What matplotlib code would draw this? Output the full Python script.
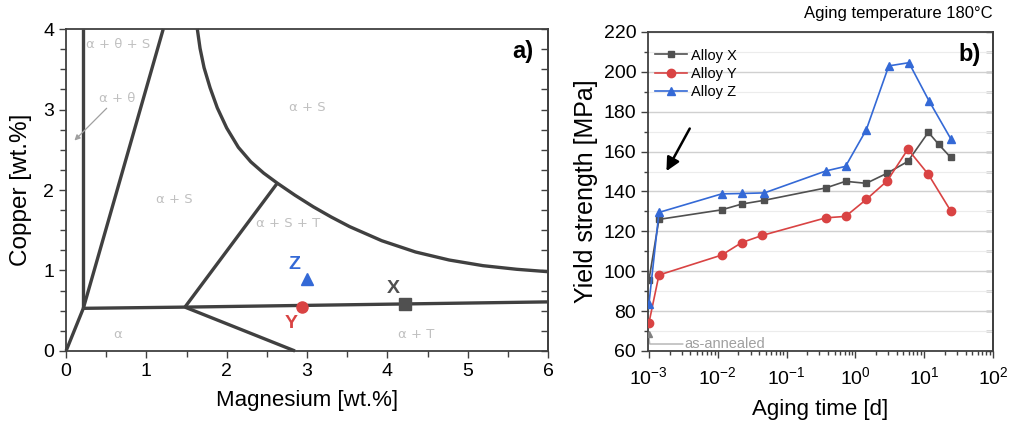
import numpy as np
import matplotlib
matplotlib.use("Agg")
import matplotlib.pyplot as plt
from matplotlib.ticker import MultipleLocator, LogLocator, NullFormatter

plt.rcParams['font.family'] = ['Liberation Sans', 'DejaVu Sans']
plt.rcParams['mathtext.fontset'] = 'custom'
plt.rcParams['mathtext.rm'] = 'Liberation Sans'

# ---------------- Panel a) data: phase diagram (Mg, Cu wt.%) ----------------
line_left_mg = [0.0, 0.215]
line_left_cu = [0.0, 0.53]
line_vert_mg = [0.215, 0.215]
line_vert_cu = [0.53, 4.0]
line_diag_mg = [0.215, 1.21]
line_diag_cu = [0.53, 4.0]
line_horiz_mg = [0.215, 1.48, 6.0]
line_horiz_cu = [0.53, 0.545, 0.61]
line_down_mg = [1.48, 2.85]
line_down_cu = [0.545, 0.0]
line_up_mg = [1.48, 2.63]
line_up_cu = [0.545, 2.085]
curve_mg = [1.634, 1.668, 1.718, 1.793, 1.883, 2.0, 2.145, 2.30, 2.46, 2.63, 2.85,
            3.08, 3.30, 3.53, 3.93, 4.35, 4.77, 5.19, 5.61, 6.0]
curve_cu = [4.0, 3.76, 3.52, 3.27, 3.02, 2.77, 2.53, 2.35, 2.21, 2.085, 1.935,
            1.79, 1.665, 1.545, 1.37, 1.23, 1.13, 1.06, 1.015, 0.985]

region_labels = ["α + θ + S", "α + θ", "α + S", "α + S", "α + S + T", "α", "α + T"]
region_x = [0.65, 0.64, 3.0, 1.35, 2.76, 0.64, 4.36]
region_y = [3.81, 3.14, 3.03, 1.88, 1.59, 0.20, 0.21]

alloy_names = ["X", "Y", "Z"]
alloy_mg = [4.22, 2.94, 3.0]
alloy_cu = [0.58, 0.55, 0.89]
alloy_label_x = [4.08, 2.80, 2.84]
alloy_label_y = [0.78, 0.34, 1.08]

# ---------------- Panel b) data: yield strength vs aging time ----------------
time_x = [0.001, 0.0014, 0.0114, 0.0224, 0.0477, 0.373, 0.72, 1.44, 2.87, 5.8, 11.5, 16.3, 24.3]
ys_x = [95.5, 126, 130.8, 133.7, 135.6, 141.8, 145.1, 144.1, 149.1, 155.1, 169.7, 163.6, 157.1]
time_y = [0.001, 0.0014, 0.0114, 0.0224, 0.0446, 0.373, 0.72, 1.44, 2.9, 5.8, 11.5, 24.3]
ys_y = [74, 98.1, 108.1, 114.4, 118, 126.8, 127.5, 136, 145.3, 161.2, 148.6, 130.3]
time_z = [0.001, 0.0014, 0.0114, 0.0224, 0.0477, 0.373, 0.72, 1.44, 3.06, 6.0, 11.7, 24.3]
ys_z = [83.5, 129.5, 138.8, 139.0, 139.3, 150.3, 152.6, 170.9, 203.0, 204.6, 185.6, 166.5]
as_annealed_time = [0.001]
as_annealed_ys = [68.5]

c_gray = "#505050"
c_red = "#d94343"
c_blue = "#3469d6"
c_line = "#404040"
c_lab = "#c0c0c0"

fig = plt.figure(figsize=(10.24, 4.33), dpi=100)

# ================= Panel a =================
ax1 = fig.add_axes([0.0645, 0.1894, 0.4707, 0.7436])
for mx, cy in [(line_left_mg, line_left_cu), (line_vert_mg, line_vert_cu),
               (line_diag_mg, line_diag_cu), (line_horiz_mg, line_horiz_cu),
               (line_down_mg, line_down_cu), (line_up_mg, line_up_cu),
               (curve_mg, curve_cu)]:
    ax1.plot(mx, cy, color=c_line, lw=2.4, solid_capstyle='butt',
             solid_joinstyle='round', clip_on=False, zorder=2)

for t, x, y in zip(region_labels, region_x, region_y):
    ax1.text(x, y, t, color=c_lab, fontsize=9.5, ha='center', va='center',
             family=['DejaVu Sans'])
ax1.annotate("", xy=(0.08, 2.59), xytext=(0.53, 3.04),
             arrowprops=dict(arrowstyle='-|>', color='#a0a0a0', lw=0.9,
                             mutation_scale=8))

marker_styles = ['s', 'o', '^']
marker_colors = [c_gray, c_red, c_blue]
for n, mx, cy, lx, ly, m, c in zip(alloy_names, alloy_mg, alloy_cu, alloy_label_x,
                                   alloy_label_y, marker_styles, marker_colors):
    ax1.plot([mx], [cy], marker=m, color=c, ms=8, ls='none', zorder=4)
    ax1.text(lx, ly, n, color=c, fontsize=14, fontweight='bold', ha='center', va='center')

ax1.set_xlim(0, 6)
ax1.set_ylim(0, 4)
ax1.xaxis.set_major_locator(MultipleLocator(1))
ax1.xaxis.set_minor_locator(MultipleLocator(0.5))
ax1.yaxis.set_major_locator(MultipleLocator(1))
ax1.yaxis.set_minor_locator(MultipleLocator(0.25))
ax1.tick_params(axis='both', which='major', labelsize=14, length=5, width=1, color=c_line)
ax1.tick_params(axis='both', which='minor', length=4, width=1, color=c_line)
sec1 = ax1.secondary_yaxis('right')
sec1.yaxis.set_major_locator(MultipleLocator(0.25))
sec1.tick_params(direction='in', length=5, width=1, color=c_line, labelright=False)
sec1.spines['right'].set_color(c_line)
sec1.spines['right'].set_linewidth(1.3)
for sp in ax1.spines.values():
    sp.set_color(c_line)
    sp.set_linewidth(1.3)
ax1.set_xlabel("Magnesium [wt.%]", fontsize=16, labelpad=7)
ax1.set_ylabel("Copper [wt.%]", fontsize=17.5, labelpad=8)
ax1.text(0.969, 0.93, "a)", transform=ax1.transAxes, fontsize=17, fontweight='bold',
         ha='right', va='center')

# ================= Panel b =================
ax2 = fig.add_axes([0.6328, 0.1894, 0.3369, 0.7367])
ax2.plot(time_x, ys_x, marker='s', color=c_gray, ms=5, lw=1.2, label="Alloy X", zorder=3)
ax2.plot(time_y, ys_y, marker='o', color=c_red, ms=6, lw=1.2, label="Alloy Y", zorder=3)
ax2.plot(time_z, ys_z, marker='^', color=c_blue, ms=6, lw=1.2, label="Alloy Z", zorder=3)
ax2.plot(as_annealed_time, as_annealed_ys, marker='^', color='#808080', ms=5, ls='none', zorder=3)
ax2.plot([as_annealed_time[0], as_annealed_time[0] * 1.03, 0.0031],
         [as_annealed_ys[0] - 1.5, 63.5, 63.5], color='#b0b0b0', lw=1, zorder=2)
ax2.text(0.0033, 63.5, "as-annealed", color='#a0a0a0', fontsize=10.5, va='center', ha='left')

ax2.annotate("", xy=(0.00172, 149.0), xytext=(0.0041, 172.8),
             arrowprops=dict(arrowstyle='-|>', color='black', lw=1.8, mutation_scale=20))

ax2.set_xscale('log')
ax2.set_xlim(0.00097, 100)
ax2.set_ylim(60, 220)
ax2.yaxis.set_major_locator(MultipleLocator(20))
ax2.yaxis.set_minor_locator(MultipleLocator(10))
ax2.xaxis.set_major_locator(LogLocator(base=10, numticks=10))
ax2.xaxis.set_minor_locator(LogLocator(base=10, subs=np.arange(2, 10), numticks=10))
ax2.xaxis.set_minor_formatter(NullFormatter())
ax2.grid(True, which='major', axis='y', color='#d0d0d0', lw=1)
ax2.grid(True, which='minor', axis='y', color='#ececec', lw=0.8)
ax2.set_axisbelow(True)
ax2.tick_params(axis='both', which='major', labelsize=14, length=5, width=1, color=c_line)
ax2.tick_params(axis='x', which='major', pad=6)
ax2.tick_params(axis='both', which='minor', length=3, width=1, color=c_line)
sec2 = ax2.secondary_yaxis('right')
sec2.yaxis.set_major_locator(MultipleLocator(10))
sec2.tick_params(direction='in', length=5, width=1, color=c_line, labelright=False)
sec2.spines['right'].set_color(c_line)
sec2.spines['right'].set_linewidth(1.3)
for sp in ax2.spines.values():
    sp.set_color(c_line)
    sp.set_linewidth(1.3)
ax2.set_xlabel("Aging time [d]", fontsize=16, labelpad=8)
ax2.set_ylabel("Yield strength [MPa]", fontsize=18, labelpad=4)
ax2.text(0.965, 0.93, "b)", transform=ax2.transAxes, fontsize=17, fontweight='bold',
         ha='right', va='center')
ax2.text(1.0, 1.035, "Aging temperature 180°C", transform=ax2.transAxes, fontsize=12,
         ha='right', va='bottom')
leg = ax2.legend(loc='upper left', frameon=False, fontsize=10.5, handlelength=2.2,
                 borderaxespad=0.3, labelspacing=0.3, handletextpad=0.3,
                 bbox_to_anchor=(-0.01, 0.98))

fig.savefig("out.png", dpi=100)
